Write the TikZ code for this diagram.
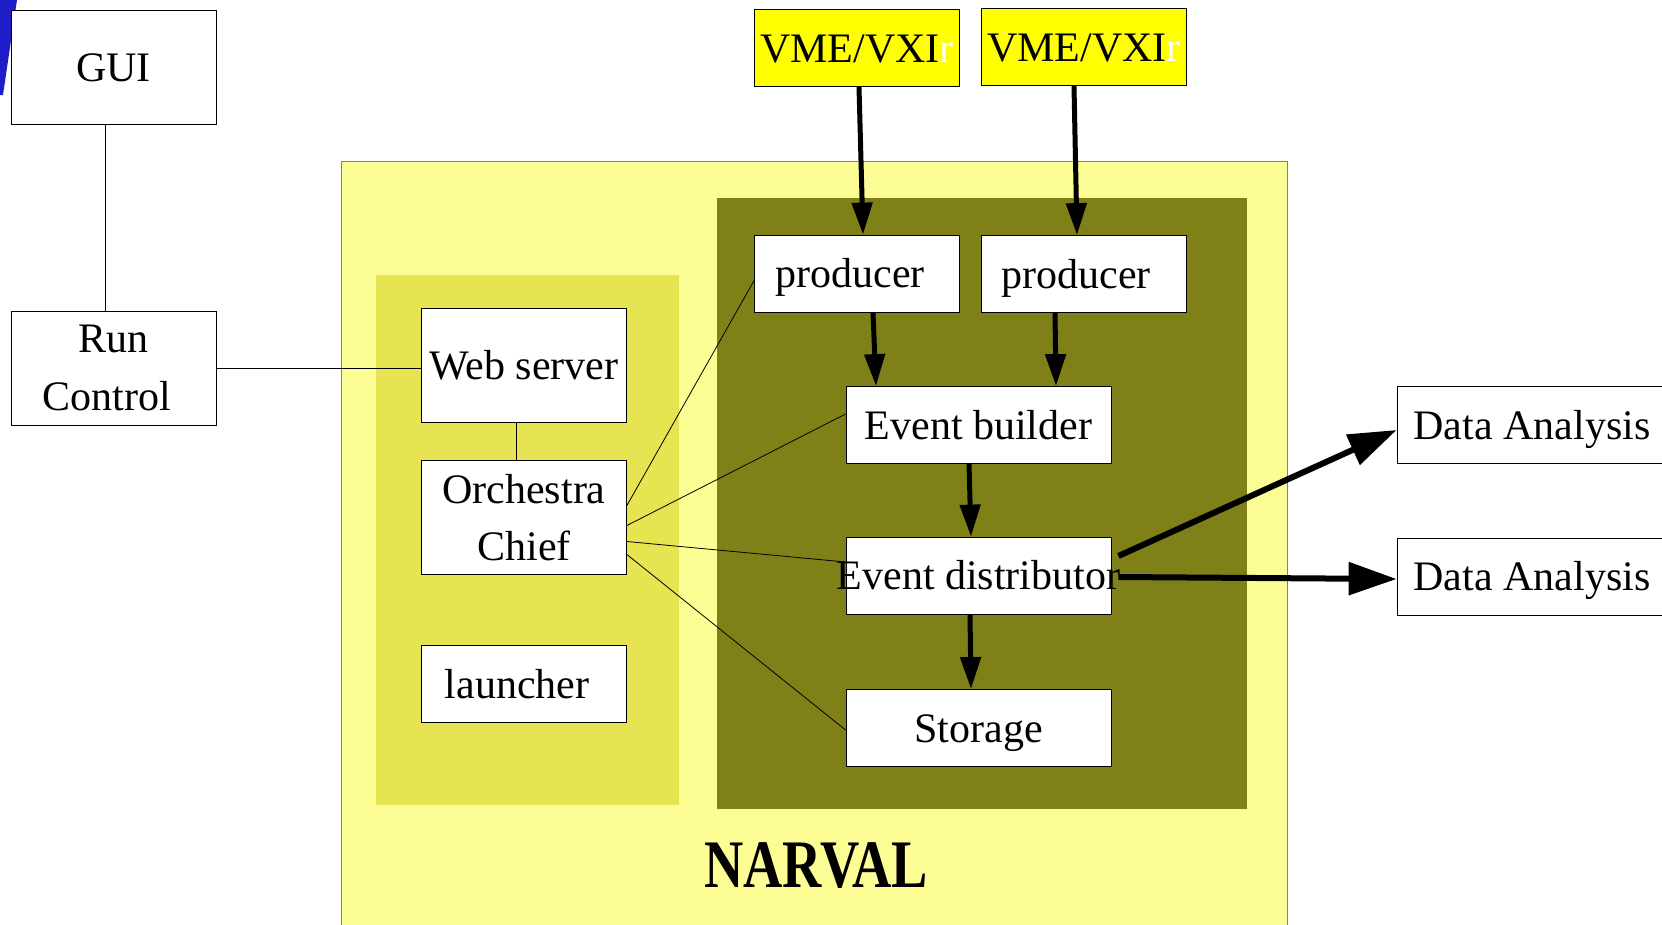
\documentclass[tikz,border=0pt]{standalone}
\usepackage{fontspec}
\setmainfont{Liberation Serif}
\usetikzlibrary{arrows.meta}
\definecolor{narvalbg}{RGB}{253,253,150}
\definecolor{panelbg}{RGB}{230,228,80}
\definecolor{olivebg}{RGB}{128,128,25}
\definecolor{vmeyellow}{RGB}{255,255,0}
\definecolor{swoosh}{RGB}{30,30,200}
\tikzset{box/.style = {draw = black, line width = 0.8pt, fill = white, inner sep = 0pt, align = center, font = \fontsize{42}{57.5}\selectfont}}
\tikzset{one line/.style = {text height = 38pt, text depth = 10pt}}
\tikzset{tall box/.style = {box, minimum width = 205pt, minimum height = 114pt}}
\tikzset{short box/.style = {box, one line, minimum width = 205pt, minimum height = 77pt}}
\tikzset{event box/.style = {box, one line, minimum width = 265pt, minimum height = 77pt}}
\tikzset{result box/.style = {box, one line, minimum width = 270pt, minimum height = 77pt}}
\tikzset{flow/.style = {line width = 5pt, -{Triangle[length = 32pt, width = 20pt]}}}
\tikzset{wide flow/.style = {line width = 6pt, -{Triangle[length = 48pt, width = 32pt]}}}
\tikzset{wire/.style = {line width = 0.8pt}}

\begin{document}
\begin{tikzpicture}[x = 1pt, y = -1pt]

  \useasboundingbox (0 , 0) rectangle (1662 , 924);

  \fill [swoosh] (0 , 0) -- (17 , 0) -- (3 , 95) -- (0 , 95) -- cycle;

  \draw [fill = narvalbg, draw = gray, line width = 1pt] (341 , 161) rectangle (1287 , 940);
  \fill [panelbg] (376 , 275) rectangle (679 , 805);
  \fill [olivebg] (717 , 198) rectangle (1247 , 809);

  \node [tall box, one line] (gui) at (113.5 , 67) {GUI};
  \node [tall box] (run) at (113.5 , 368) {Run\\\hspace*{-14pt}Control};

  \node [short box, fill = vmeyellow] (vme1) at (857 , 48) {VME/VXI\textcolor{white}{r}};
  \node [short box, fill = vmeyellow] (vme2) at (1084 , 47) {VME/VXI\textcolor{white}{r}};
  \node [short box] (prod1) at (857 , 273.5) {\hspace*{-14pt}producer};
  \node [short box] (prod2) at (1084 , 274) {\hspace*{-16pt}producer};

  \node [tall box, one line] (web) at (524 , 365.5) {Web server};
  \node [tall box] (chief) at (524 , 517.5) {Orchestra\\Chief};
  \node [short box] (launcher) at (524 , 684) {\hspace*{-14pt}launcher};

  \node [event box] (builder) at (978.5 , 425) {Event builder};
  \node [event box] (distributor) at (978.5 , 575.5) {\makebox[0pt]{Event distributor}};
  \node [event box] (storage) at (978.5 , 728) {Storage};

  \node [result box] (da1) at (1532 , 425) {\makebox[0pt]{Data Analysis}};
  \node [result box] (da2) at (1532 , 576.5) {\makebox[0pt]{Data Analysis}};

  \node (narval) at (816 , 866) {\fontsize{68}{70}\selectfont\bfseries\scalebox{0.8}[1]{NARVAL}};

  \draw [wire] ([xshift = -8pt] gui.south) -- ([xshift = -8pt] run.north);
  \draw [wire] (run.east) -- (run.east -| web.west);
  \draw [wire] ([xshift = -8pt] web.south) -- ([xshift = -8pt] chief.north);

  \draw [wire] ([yshift = 12pt] chief.east) -- ([yshift = -7pt] prod1.west);
  \draw [wire] ([yshift = -8pt] chief.east) -- ([yshift = 11pt] builder.west);
  \draw [wire] ([yshift = -24pt] chief.east) -- ([yshift = 13.5pt] distributor.west);
  \draw [wire] ([yshift = -37pt] chief.east) -- ([yshift = -2pt] storage.west);

  \draw [flow] ([xshift = 2pt] vme1.south) -- ([xshift = 6pt] prod1.north);
  \draw [flow] ([xshift = -10pt] vme2.south) -- ([xshift = -7pt] prod2.north);
  \draw [flow] ([xshift = 16pt] prod1.south) -- ([xshift = -102.5pt] builder.north);
  \draw [flow] ([xshift = -29pt] prod2.south) -- ([xshift = 77.5pt] builder.north);
  \draw [flow] ([xshift = -9.5pt] builder.south) -- ([xshift = -7.5pt] distributor.north);
  \draw [flow] ([xshift = -8.5pt] distributor.south) -- ([xshift = -7.5pt] storage.north);

  \draw [wide flow] ([shift = {(7pt , 19.5pt)}] distributor.east) -- ([yshift = -5pt] da1.west);
  \draw [wide flow] ([shift = {(7pt , -1.5pt)}] distributor.east) -- ([yshift = -2.5pt] da2.west);

\end{tikzpicture}
\end{document}
